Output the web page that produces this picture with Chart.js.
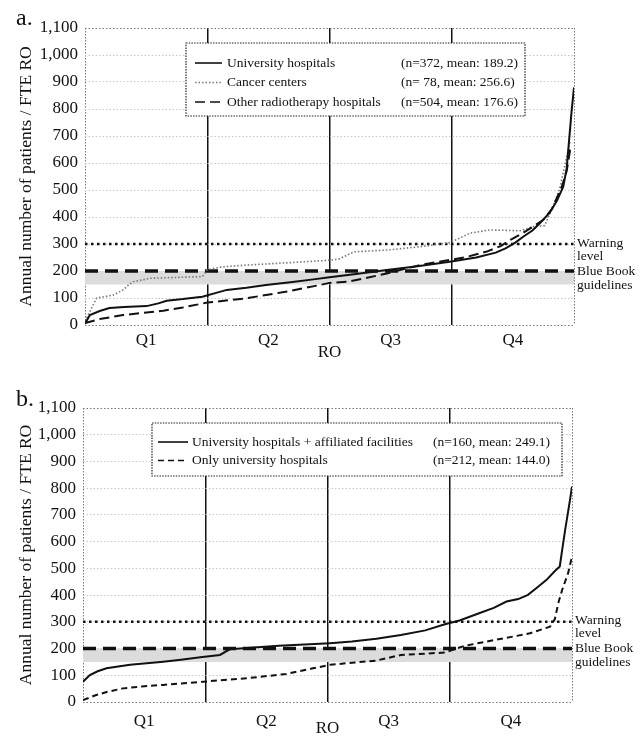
<!DOCTYPE html>
<html>
<head>
<meta charset="utf-8">
<script src="https://cdn.jsdelivr.net/npm/chart.js@4.4.1/dist/chart.umd.min.js"></script>
<style>
  html, body { margin: 0; padding: 0; background: #fff; }
  #wrap { position: relative; width: 644px; height: 739px; }
  canvas { position: absolute; left: 0; }
</style>
</head>
<body>
<div id="wrap">
  <canvas id="chartA" width="644" height="369" style="top:0"></canvas>
  <canvas id="chartB" width="644" height="370" style="top:369px"></canvas>
</div>
<script>
'use strict';

// axis / reference values
const quartileLabels = ['Q1', 'Q2', 'Q3', 'Q4'];
const quartileEdges = [0, 25, 50, 75, 100];
const yMax = 1100;
const yStep = 100;
const warningLevel = 300;
const blueBookHigh = 200;
const blueBookLow = 150;

// panel a (x = percentile rank of RO, y = annual patients / FTE RO)
const aUnivX = [0, 1, 3, 5, 8, 12.6, 15, 16.7, 20, 24, 27, 29, 33, 37, 42, 46.7, 50, 55, 61.7, 68, 74.6, 80, 84, 86, 88, 89.6, 91.5, 93, 95, 96.5, 97.8, 98.5, 99, 99.5, 100];
const aUnivY = [5, 37, 52, 63, 67, 70, 80, 90, 96, 105, 120, 130, 138, 148, 158, 169, 177, 188, 204, 218, 234, 250, 268, 284, 305, 327, 350, 377, 415, 460, 512, 580, 685, 790, 880];

const aCancerX = [0, 1, 2.4, 4, 5.8, 7.8, 9, 9.9, 13.3, 20, 24, 25, 28, 33, 42, 50, 52, 55, 62, 68.5, 74.6, 77, 78.7, 82.8, 89, 91.6, 94, 95.4, 97, 98.5, 99.2];
const aCancerY = [15, 50, 100, 105, 111, 130, 150, 160, 173, 177, 179, 205, 215, 222, 231, 240, 245, 271, 278, 290, 305, 325, 340, 352, 349, 364, 368, 426, 500, 623, 680];

const aOtherX = [0, 3, 7.8, 12, 16, 20, 25, 33, 41, 48, 50, 53.5, 57, 61.7, 68.5, 74.6, 78, 82, 85, 87, 89.5, 91.6, 93.7, 95.5, 97.5, 98.5, 99.2, 100];
const aOtherY = [7, 22, 37, 45, 53, 65, 83, 99, 123, 148, 156, 160, 172, 191, 222, 241, 252, 271, 292, 315, 340, 364, 389, 430, 512, 570, 648, 660];

const aNames = ['University hospitals', 'Cancer centers', 'Other radiotherapy hospitals'];
const aN = ['372', ' 78', '504'];
const aMean = [189.2, 256.6, 176.6];

// panel b
const bAffX = [0, 1.4, 3, 4.8, 9.6, 16.4, 20, 24, 28, 30, 35, 40, 50.5, 55, 60, 65, 70, 74, 77, 81, 84, 86.6, 89, 91, 93, 94.8, 96.5, 97.5, 98, 98.6, 99.6, 100];
const bAffY = [76, 101, 115, 126, 139, 151, 158, 167, 176, 197, 204, 210, 220, 226, 237, 251, 268, 291, 305, 332, 352, 376, 385, 401, 430, 457, 490, 507, 570, 644, 757, 806];

const bOnlyX = [0, 2.7, 5, 8.2, 12, 16.4, 24.6, 33.5, 41.6, 47, 50.5, 55, 60, 65, 74, 78, 82.5, 88, 91.4, 95.5, 96.5, 97.2, 98, 99.2, 100];
const bOnlyY = [7, 26, 38, 51, 58, 64, 76, 89, 105, 126, 139, 147, 155, 176, 185, 210, 226, 245, 257, 282, 310, 370, 420, 482, 544];

const bNames = ['University hospitals + affiliated facilities', 'Only university hospitals'];
const bN = ['160', '212'];
const bMean = [249.1, 144.0];

const serif = "'Liberation Serif', 'DejaVu Serif', serif";

function pts(xs, ys) {
  return xs.map((x, i) => ({ x: x, y: ys[i] }));
}

const quartileMids = quartileLabels.map((q, i) => (quartileEdges[i] + quartileEdges[i + 1]) / 2);
const xTickValues = quartileEdges.concat(quartileMids).sort((a, b) => a - b);

function refDatasets() {
  return [
    {
      label: 'Warning level',
      data: pts([0, 100], [warningLevel, warningLevel]),
      borderColor: '#111', borderWidth: 2.6, borderDash: [2.5, 3.5],
      order: 3
    },
    {
      label: 'Blue Book guidelines',
      data: pts([0, 100], [blueBookHigh, blueBookHigh]),
      borderColor: '#111', borderWidth: 3.5, borderDash: [13, 7],
      fill: { value: blueBookLow }, backgroundColor: '#dcdcdc',
      order: 4
    }
  ];
}

// legend box, panel letter and right-hand notes
const panelDecor = {
  id: 'panelDecor',
  afterDraw(chart, args, o) {
    const ctx = chart.ctx;
    const ca = chart.chartArea;
    const ys = chart.scales.y;
    ctx.save();

    ctx.fillStyle = '#111';
    ctx.font = '24px ' + serif;
    ctx.textBaseline = 'alphabetic';
    ctx.fillText(o.letter, 16, o.letterY);

    // notes next to the reference lines
    ctx.font = '13.5px ' + serif;
    ctx.textBaseline = 'middle';
    let yw = ys.getPixelForValue(warningLevel);
    ctx.fillText('Warning', ca.right + 3, yw - 1);
    ctx.fillText('level', ca.right + 3, yw + 12);
    let yb = ys.getPixelForValue(blueBookHigh);
    ctx.fillText('Blue Book', ca.right + 3, yb);
    ctx.fillText('guidelines', ca.right + 3, yb + 14);

    // legend
    const b = o.box;
    ctx.fillStyle = '#fff';
    ctx.fillRect(b.x, b.y, b.w, b.h);
    ctx.setLineDash([1.5, 1.2]);
    ctx.strokeStyle = '#222';
    ctx.lineWidth = 1.2;
    ctx.strokeRect(b.x, b.y, b.w, b.h);

    ctx.font = '13.5px ' + serif;
    o.names.forEach((name, i) => {
      const ds = chart.data.datasets[i];
      const y = b.y + o.rowStart + i * o.rowGap;
      ctx.setLineDash(ds.borderDash || []);
      ctx.strokeStyle = ds.borderColor;
      ctx.lineWidth = Math.min(ds.borderWidth, 1.6);
      ctx.beginPath();
      ctx.moveTo(o.sampleX, y);
      ctx.lineTo(o.sampleX + o.sampleW, y);
      ctx.stroke();
      ctx.fillStyle = '#111';
      ctx.fillText(name, o.textX, y);
      ctx.fillText('(n=' + o.n[i] + ', mean: ' + o.mean[i].toFixed(1) + ')', o.statsX, y);
    });
    ctx.restore();
  }
};

function makeOptions(cfg) {
  return {
    responsive: false,
    animation: false,
    events: [],
    layout: { padding: { top: cfg.top, right: 644 - cfg.right, left: 0, bottom: 0 } },
    elements: { point: { radius: 0 }, line: { tension: 0 } },
    plugins: {
      legend: { display: false },
      tooltip: { enabled: false },
      panelDecor: cfg.decor
    },
    scales: {
      x: {
        type: 'linear', min: 0, max: 100,
        afterBuildTicks: s => { s.ticks = xTickValues.map(v => ({ value: v })); },
        afterFit: s => { s.height = cfg.xHeight; },
        ticks: {
          autoSkip: false, maxRotation: 0, padding: cfg.xTickPad, color: '#111',
          font: { family: serif, size: 17 },
          callback: v => {
            const i = quartileMids.indexOf(v);
            return i >= 0 ? quartileLabels[i] : '';
          }
        },
        grid: {
          drawTicks: false,
          color: c => {
            const v = c.tick ? c.tick.value : null;
            if (v === 0 || v === 100) return '#777';
            if (quartileEdges.indexOf(v) >= 0) return '#111';
            return 'rgba(0,0,0,0)';
          },
          lineWidth: c => {
            const v = c.tick ? c.tick.value : null;
            return (v > 0 && v < 100 && quartileEdges.indexOf(v) >= 0) ? 1.5 : 1;
          }
        },
        border: {
          display: false,
          dash: c => {
            const v = c.tick ? c.tick.value : null;
            return (v === 0 || v === 100) ? [1.5, 1.5] : [];
          }
        },
        title: {
          display: true, text: 'RO', color: '#111',
          font: { family: serif, size: 17 },
          padding: { top: 0, bottom: cfg.xTitlePad }
        }
      },
      y: {
        min: 0, max: yMax,
        afterFit: s => { s.width = cfg.left; },
        ticks: {
          stepSize: yStep, padding: 7, color: '#111',
          font: { family: serif, size: 17 }
        },
        grid: {
          drawTicks: false,
          color: c => {
            const v = c.tick ? c.tick.value : null;
            return (v === 0 || v === yMax) ? '#777' : '#c8c8c8';
          }
        },
        border: { display: false, dash: [1.5, 2] },
        title: {
          display: true, text: 'Annual number of patients / FTE RO', color: '#111',
          font: { family: serif, size: 17.5 },
          padding: { top: 15.5, bottom: 0 }
        }
      }
    }
  };
}

new Chart(document.getElementById('chartA'), {
  type: 'line',
  data: {
    datasets: [
      { label: aNames[0], data: pts(aUnivX, aUnivY), borderColor: '#111', borderWidth: 2, order: 0 },
      { label: aNames[1], data: pts(aCancerX, aCancerY), borderColor: '#777', borderWidth: 1.6, borderDash: [1.5, 2], order: 1 },
      { label: aNames[2], data: pts(aOtherX, aOtherY), borderColor: '#111', borderWidth: 2, borderDash: [10, 5], order: 0 }
    ].concat(refDatasets())
  },
  options: makeOptions({
    top: 28, right: 574, left: 85, xHeight: 44, xTickPad: 5, xTitlePad: 6,
    decor: {
      letter: 'a.', letterY: 25,
      box: { x: 186, y: 43, w: 339, h: 73 },
      rowStart: 20, rowGap: 19.5,
      sampleX: 195, sampleW: 27, textX: 227, statsX: 401,
      names: aNames, n: aN, mean: aMean
    }
  }),
  plugins: [panelDecor]
});

new Chart(document.getElementById('chartB'), {
  type: 'line',
  data: {
    datasets: [
      { label: bNames[0], data: pts(bAffX, bAffY), borderColor: '#111', borderWidth: 2, order: 0 },
      { label: bNames[1], data: pts(bOnlyX, bOnlyY), borderColor: '#111', borderWidth: 2, borderDash: [6, 4], order: 0 }
    ].concat(refDatasets())
  },
  options: makeOptions({
    top: 39, right: 572, left: 83, xHeight: 37, xTickPad: 9, xTitlePad: 0,
    decor: {
      letter: 'b.', letterY: 37,
      box: { x: 152, y: 54, w: 410, h: 53 },
      rowStart: 19, rowGap: 18.5,
      sampleX: 158, sampleW: 30, textX: 192, statsX: 433,
      names: bNames, n: bN, mean: bMean
    }
  }),
  plugins: [panelDecor]
});
</script>
</body>
</html>
